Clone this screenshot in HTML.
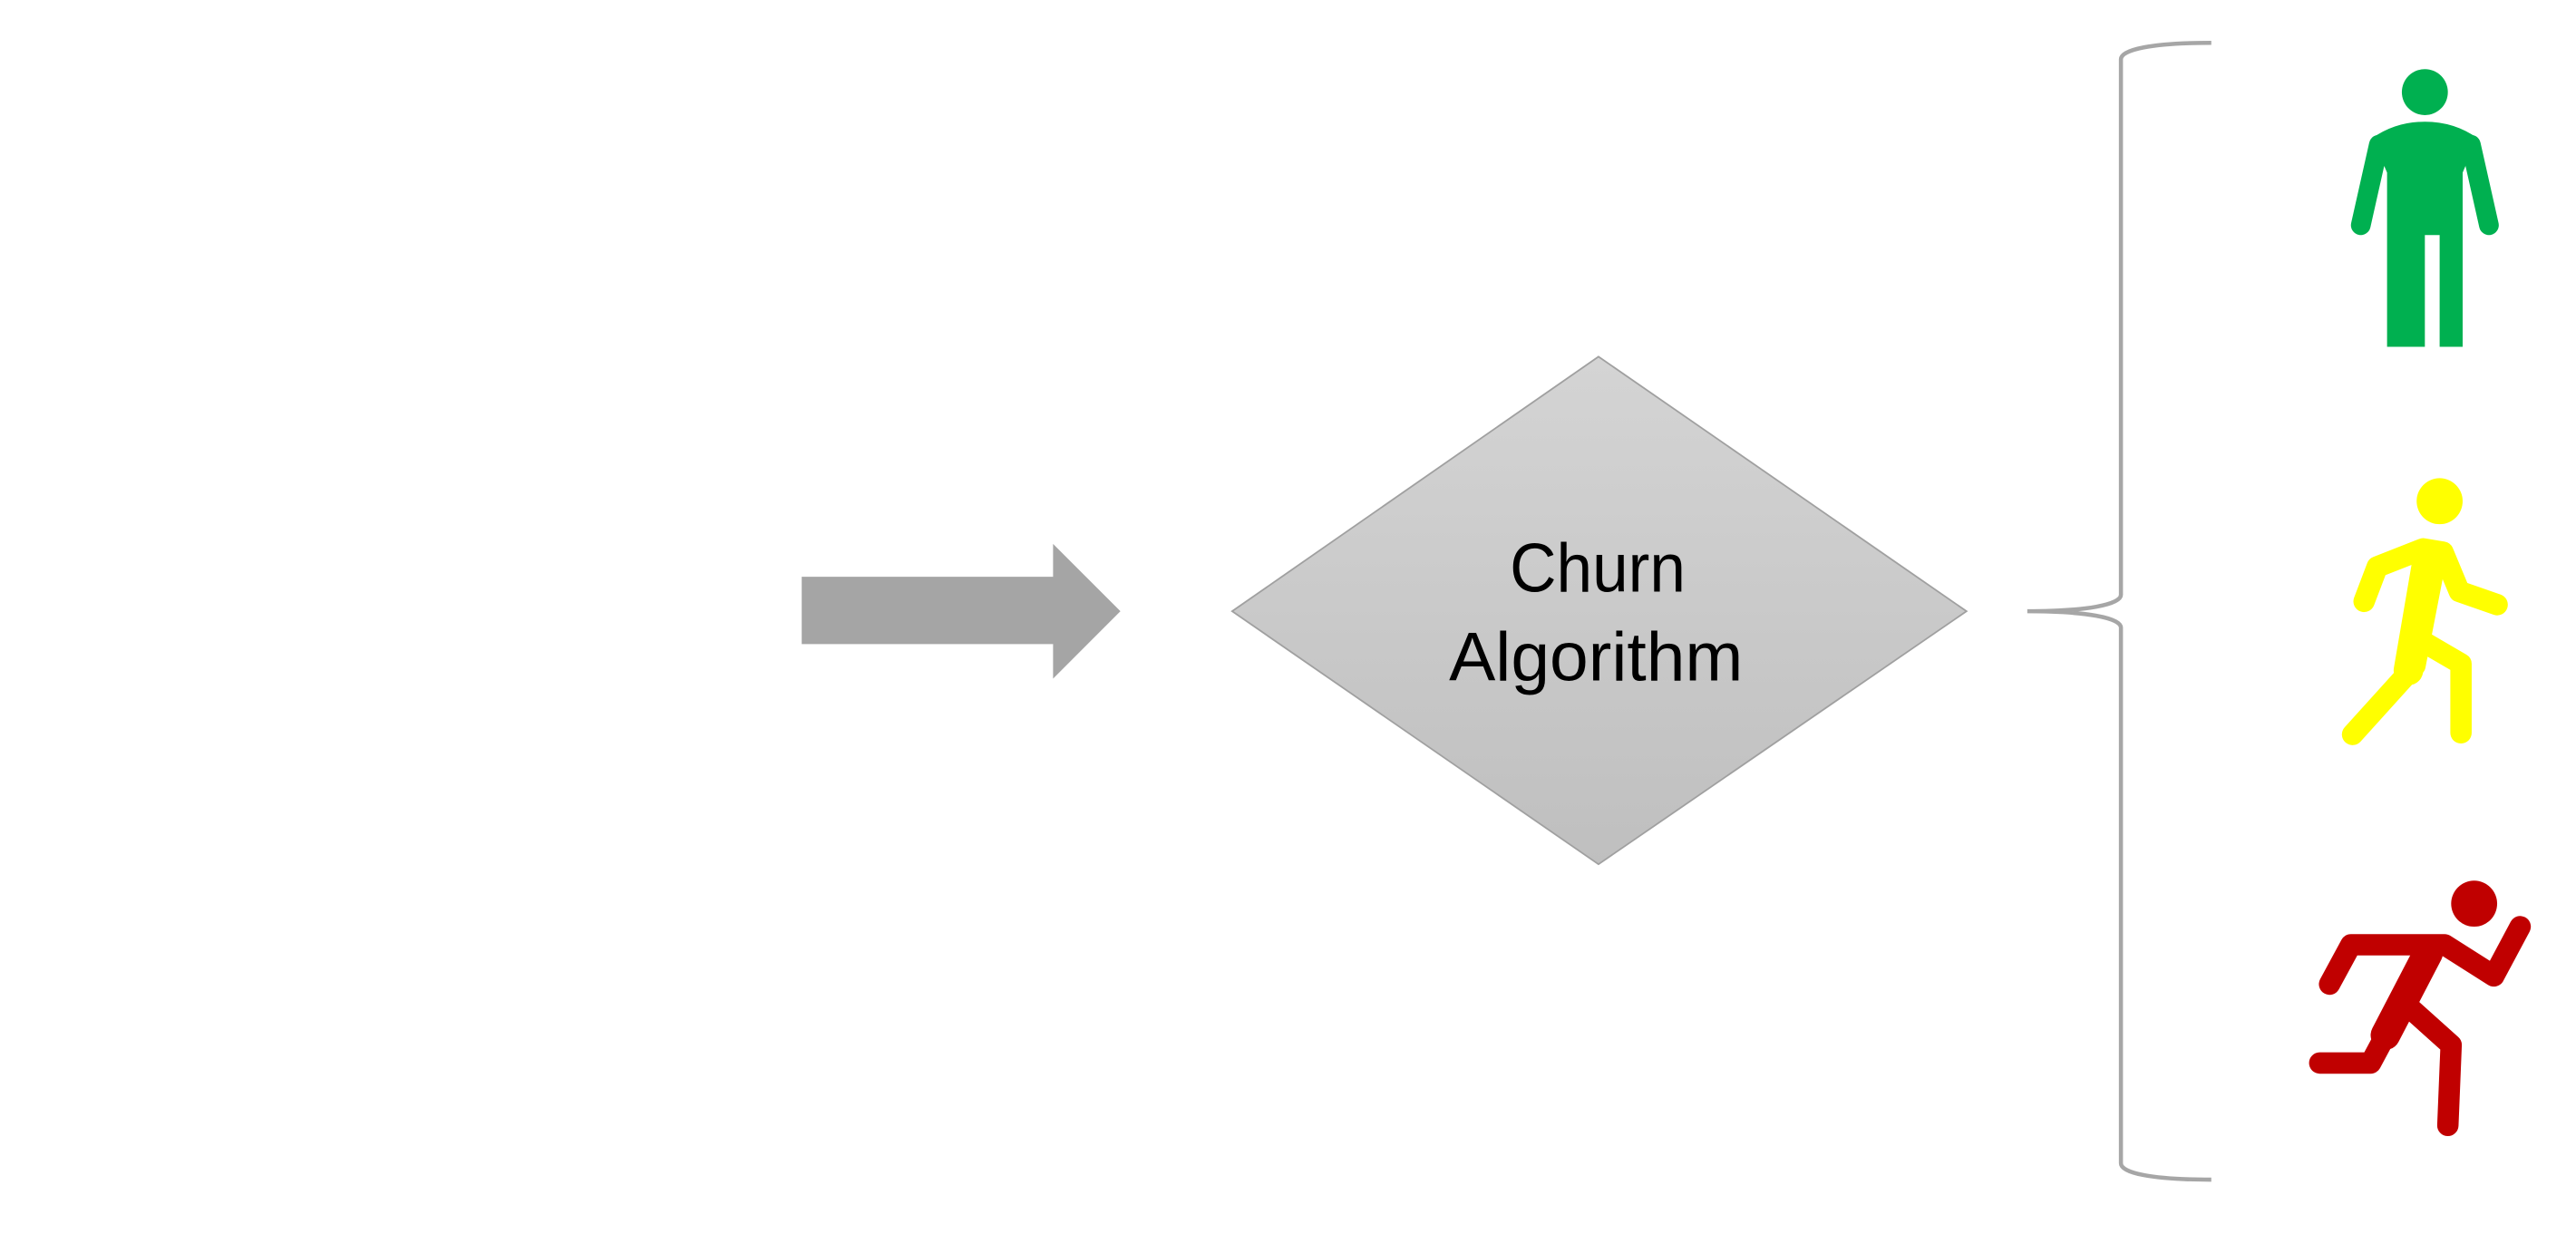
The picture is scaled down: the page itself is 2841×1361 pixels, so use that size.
<!DOCTYPE html>
<html><head><meta charset="utf-8">
<style>
html,body{margin:0;padding:0;background:#fff;}
svg{display:block;}
</style></head>
<body>
<svg width="2841" height="1361" viewBox="0 0 1568 751" xmlns="http://www.w3.org/2000/svg">
<defs>
<linearGradient id="g" x1="0" y1="0" x2="0" y2="1">
<stop offset="0" stop-color="#d4d4d4"/><stop offset="1" stop-color="#bfbfbf"/>
</linearGradient>
</defs>
<polygon points="488,351 641,351 641,331 682,372 641,413 641,392 488,392" fill="#a5a5a5"/>
<polygon points="750,372 973,217 1197,372 973,526" fill="url(#g)" stroke="#a0a0a0" stroke-width="1"/>
<text x="919" y="360" textLength="107" lengthAdjust="spacingAndGlyphs" style="font-family:'Liberation Sans',sans-serif;font-size:42px" fill="#000">Churn</text>
<text x="882" y="414" textLength="179" lengthAdjust="spacingAndGlyphs" style="font-family:'Liberation Sans',sans-serif;font-size:42px" fill="#000">Algorithm</text>
<path d="M1346,26 C1310,26 1291,30 1291,36 L1291,362 C1291,368 1270,372 1234,372 C1270,372 1291,376 1291,382 L1291,708 C1291,714 1310,718 1346,718" fill="none" stroke="#a6a6a6" stroke-width="2.5"/>
<g fill="#00b050" stroke="#00b050">
<circle cx="1476" cy="56" r="14" stroke="none"/>
<path d="M1444,84 Q1458,74 1476,74 Q1494,74 1508,84 L1499,105 L1499,211 L1485,211 L1485,143 L1476,143 L1476,211 L1453,211 L1453,105 Z" stroke="none"/>
<path d="M1448,88 L1437,137 M1504,88 L1515,137" stroke-width="12" stroke-linecap="round" fill="none"/>
</g>
<g stroke="#ffff00" stroke-width="13" stroke-linecap="round" stroke-linejoin="round" fill="none">
<circle cx="1485" cy="305" r="14" fill="#ffff00" stroke="none"/>
<path d="M1439,366 L1447,345 L1475,334 L1487,336 L1497,360 L1520,368"/>
<path d="M1483,338 L1470,405 L1432,447"/>
<path d="M1474,390 L1498,404 L1498,446"/>
<path d="M1478,338 L1466,408" stroke-width="18"/>
</g>
<g stroke="#c00000" stroke-width="13" stroke-linecap="round" stroke-linejoin="round" fill="none">
<circle cx="1506" cy="550" r="14" fill="#c00000" stroke="none"/>
<path d="M1418,599 L1431,575 L1488,575 L1518,594 L1534,564"/>
<path d="M1480,578 L1443,647 L1412,647"/>
<path d="M1463,610 L1492,636 L1490,685"/>
<path d="M1478,580 L1452,630" stroke-width="18"/>
</g>
</svg>
</body></html>
